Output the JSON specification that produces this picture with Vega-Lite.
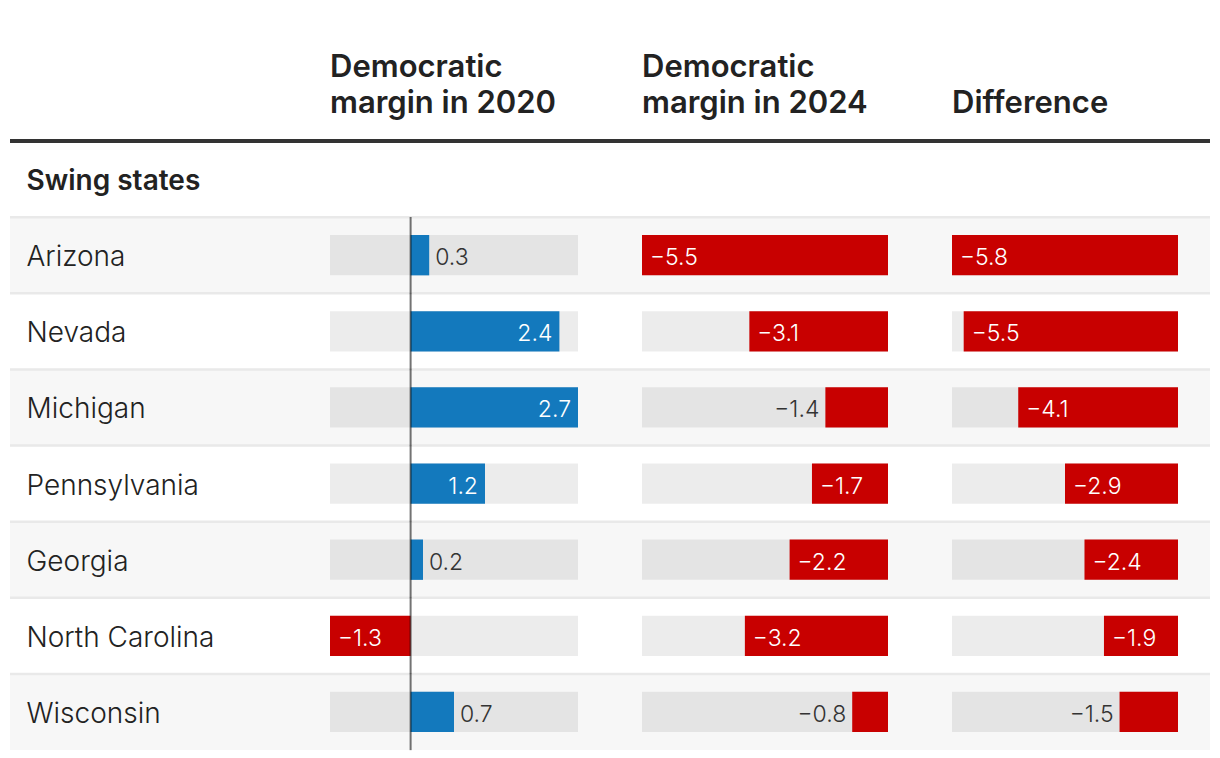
{
  "$schema": "https://vega.github.io/schema/vega-lite/v6.json",
  "background": "white",
  "padding": {"left": 8, "right": 8, "top": 51, "bottom": 9},
  "spacing": 0,
  "bounds": "flush",
  "config": {
    "view": {"stroke": null},
    "font": "Inter",
    "title": {"anchor": "start", "font": "Inter", "fontSize": 31, "fontWeight": 600, "color": "#222", "lineHeight": 36.5, "offset": 19, "dx": 2},
    "text": {"fontSize": 23, "fontWeight": 300, "baseline": "middle", "dy": 3}
  },
  "data": {"values": [
    {"state": "Arizona", "m2020": 0.3, "m2024": -5.5, "diff": -5.8},
    {"state": "Nevada", "m2020": 2.4, "m2024": -3.1, "diff": -5.5},
    {"state": "Michigan", "m2020": 2.7, "m2024": -1.4, "diff": -4.1},
    {"state": "Pennsylvania", "m2020": 1.2, "m2024": -1.7, "diff": -2.9},
    {"state": "Georgia", "m2020": 0.2, "m2024": -2.2, "diff": -2.4},
    {"state": "North Carolina", "m2020": -1.3, "m2024": -3.2, "diff": -1.9},
    {"state": "Wisconsin", "m2020": 0.7, "m2024": -0.8, "diff": -1.5}
  ]},
  "hconcat": [
    {
      "width": 320, "height": 609,
      "encoding": {"y": {"field": "state", "type": "nominal", "title": null,
        "scale": {"domain": ["Swing states", "Arizona", "Nevada", "Michigan", "Pennsylvania", "Georgia", "North Carolina", "Wisconsin"], "paddingInner": 0, "paddingOuter": 0},
        "axis": {"domain": false, "ticks": false, "tickSize": 0, "grid": false, "zindex": 1, "labelAlign": "left", "labelPadding": -16, "labelOffset": 3, "labelOverlap": false, "labelLimit": 0, "minExtent": 0, "labelFont": "Inter", "labelColor": "#222", "labelBaseline": "middle",
          "labelFontSize": 28,
          "labelFontWeight": {"condition": {"test": "datum.value === 'Swing states'", "value": 600}, "value": 300}}}},
      "layer": [
        {"transform": [{"filter": {"field": "state", "oneOf": ["Arizona", "Michigan", "Georgia", "Wisconsin"]}}],
         "mark": {"type": "bar", "color": "#f7f7f7"}, "encoding": {"x": {"value": 0}, "x2": {"value": "width"}}},
        {"mark": {"type": "rule", "color": "#e9e9e9", "strokeWidth": 2.5},
         "encoding": {"y": {"field": "state", "type": "nominal", "bandPosition": 0}, "x": {"value": 0}, "x2": {"value": "width"}}},
        {"data": {"values": [{}]}, "mark": {"type": "rule", "color": "#333", "strokeWidth": 4},
         "encoding": {"y": {"value": 0}, "x": {"value": 0}, "x2": {"value": "width"}}}
      ]
    },
    {
      "width": 312, "height": 609,
      "title": {"text": ["Democratic", "margin in 2020"]},
      "encoding": {"y": {"field": "state", "type": "nominal", "title": null, "axis": null,
        "scale": {"domain": ["Swing states", "Arizona", "Nevada", "Michigan", "Pennsylvania", "Georgia", "North Carolina", "Wisconsin"], "paddingInner": 0, "paddingOuter": 0}}},
      "layer": [
        {"transform": [{"filter": {"field": "state", "oneOf": ["Arizona", "Michigan", "Georgia", "Wisconsin"]}}],
         "mark": {"type": "bar", "color": "#f7f7f7"}, "encoding": {"x": {"value": 0}, "x2": {"value": "width"}}},
        {"mark": {"type": "rule", "color": "#e9e9e9", "strokeWidth": 2.5},
         "encoding": {"y": {"field": "state", "type": "nominal", "bandPosition": 0}, "x": {"value": 0}, "x2": {"value": "width"}}},
        {"data": {"values": [{}]}, "mark": {"type": "rule", "color": "#333", "strokeWidth": 4},
         "encoding": {"y": {"value": 0}, "x": {"value": 0}, "x2": {"value": "width"}}},
        {"mark": {"type": "bar", "color": "#000", "opacity": 0.075, "height": {"band": 0.53}},
         "encoding": {"x": {"datum": -1.3, "type": "quantitative", "scale": {"domain": [-1.3, 2.7], "range": [0, 248], "nice": false}, "axis": null}, "x2": {"datum": 2.7}}},
        {"mark": {"type": "bar", "height": {"band": 0.53}},
         "encoding": {"x": {"field": "m2020", "type": "quantitative", "scale": {"domain": [-1.3, 2.7], "range": [0, 248], "nice": false}, "axis": null}, "x2": {"datum": 0},
           "color": {"condition": {"test": "datum.m2020 < 0", "value": "#c80000"}, "value": "#1379bd"}}},
        {"mark": {"type": "tick", "orient": "vertical", "size": 76.4, "thickness": 2, "color": "#000", "opacity": 0.55},
         "encoding": {"x": {"datum": 0, "type": "quantitative"}}},
        {"transform": [{"filter": "datum.m2020 >= 1"}],
         "mark": {"type": "text", "align": "right", "dx": -7, "color": "white"},
         "encoding": {"x": {"field": "m2020", "type": "quantitative"}, "text": {"field": "m2020", "type": "quantitative", "format": ".1f"}}},
        {"transform": [{"filter": "datum.m2020 > 0 && datum.m2020 < 1"}],
         "mark": {"type": "text", "align": "left", "dx": 6, "color": "#333"},
         "encoding": {"x": {"field": "m2020", "type": "quantitative"}, "text": {"field": "m2020", "type": "quantitative", "format": ".1f"}}},
        {"transform": [{"filter": "datum.m2020 <= -1"}],
         "mark": {"type": "text", "align": "left", "dx": 8, "color": "white"},
         "encoding": {"x": {"field": "m2020", "type": "quantitative"}, "text": {"field": "m2020", "type": "quantitative", "format": ".1f"}}}
      ]
    },
    {
      "width": 310, "height": 609,
      "title": {"text": ["Democratic", "margin in 2024"]},
      "encoding": {"y": {"field": "state", "type": "nominal", "title": null, "axis": null,
        "scale": {"domain": ["Swing states", "Arizona", "Nevada", "Michigan", "Pennsylvania", "Georgia", "North Carolina", "Wisconsin"], "paddingInner": 0, "paddingOuter": 0}}},
      "layer": [
        {"transform": [{"filter": {"field": "state", "oneOf": ["Arizona", "Michigan", "Georgia", "Wisconsin"]}}],
         "mark": {"type": "bar", "color": "#f7f7f7"}, "encoding": {"x": {"value": 0}, "x2": {"value": "width"}}},
        {"mark": {"type": "rule", "color": "#e9e9e9", "strokeWidth": 2.5},
         "encoding": {"y": {"field": "state", "type": "nominal", "bandPosition": 0}, "x": {"value": 0}, "x2": {"value": "width"}}},
        {"data": {"values": [{}]}, "mark": {"type": "rule", "color": "#333", "strokeWidth": 4},
         "encoding": {"y": {"value": 0}, "x": {"value": 0}, "x2": {"value": "width"}}},
        {"mark": {"type": "bar", "color": "#000", "opacity": 0.075, "height": {"band": 0.53}},
         "encoding": {"x": {"datum": -5.5, "type": "quantitative", "scale": {"domain": [-5.5, 0], "range": [0, 246], "nice": false}, "axis": null}, "x2": {"datum": 0}}},
        {"mark": {"type": "bar", "height": {"band": 0.53}, "color": "#c80000"},
         "encoding": {"x": {"field": "m2024", "type": "quantitative", "scale": {"domain": [-5.5, 0], "range": [0, 246], "nice": false}, "axis": null}, "x2": {"datum": 0}}},
        {"transform": [{"filter": "datum.m2024 <= -1.5"}],
         "mark": {"type": "text", "align": "left", "dx": 8, "color": "white"},
         "encoding": {"x": {"field": "m2024", "type": "quantitative"}, "text": {"field": "m2024", "type": "quantitative", "format": ".1f"}}},
        {"transform": [{"filter": "datum.m2024 > -1.5"}],
         "mark": {"type": "text", "align": "right", "dx": -6, "color": "#333"},
         "encoding": {"x": {"field": "m2024", "type": "quantitative"}, "text": {"field": "m2024", "type": "quantitative", "format": ".1f"}}}
      ]
    },
    {
      "width": 258, "height": 609,
      "title": {"text": "Difference"},
      "encoding": {"y": {"field": "state", "type": "nominal", "title": null, "axis": null,
        "scale": {"domain": ["Swing states", "Arizona", "Nevada", "Michigan", "Pennsylvania", "Georgia", "North Carolina", "Wisconsin"], "paddingInner": 0, "paddingOuter": 0}}},
      "layer": [
        {"transform": [{"filter": {"field": "state", "oneOf": ["Arizona", "Michigan", "Georgia", "Wisconsin"]}}],
         "mark": {"type": "bar", "color": "#f7f7f7"}, "encoding": {"x": {"value": 0}, "x2": {"value": "width"}}},
        {"mark": {"type": "rule", "color": "#e9e9e9", "strokeWidth": 2.5},
         "encoding": {"y": {"field": "state", "type": "nominal", "bandPosition": 0}, "x": {"value": 0}, "x2": {"value": "width"}}},
        {"data": {"values": [{}]}, "mark": {"type": "rule", "color": "#333", "strokeWidth": 4},
         "encoding": {"y": {"value": 0}, "x": {"value": 0}, "x2": {"value": "width"}}},
        {"mark": {"type": "bar", "color": "#000", "opacity": 0.075, "height": {"band": 0.53}},
         "encoding": {"x": {"datum": -5.8, "type": "quantitative", "scale": {"domain": [-5.8, 0], "range": [0, 226], "nice": false}, "axis": null}, "x2": {"datum": 0}}},
        {"mark": {"type": "bar", "height": {"band": 0.53}, "color": "#c80000"},
         "encoding": {"x": {"field": "diff", "type": "quantitative", "scale": {"domain": [-5.8, 0], "range": [0, 226], "nice": false}, "axis": null}, "x2": {"datum": 0}}},
        {"transform": [{"filter": "datum.diff <= -1.7"}],
         "mark": {"type": "text", "align": "left", "dx": 8, "color": "white"},
         "encoding": {"x": {"field": "diff", "type": "quantitative"}, "text": {"field": "diff", "type": "quantitative", "format": ".1f"}}},
        {"transform": [{"filter": "datum.diff > -1.7"}],
         "mark": {"type": "text", "align": "right", "dx": -6, "color": "#333"},
         "encoding": {"x": {"field": "diff", "type": "quantitative"}, "text": {"field": "diff", "type": "quantitative", "format": ".1f"}}}
      ]
    }
  ]
}
